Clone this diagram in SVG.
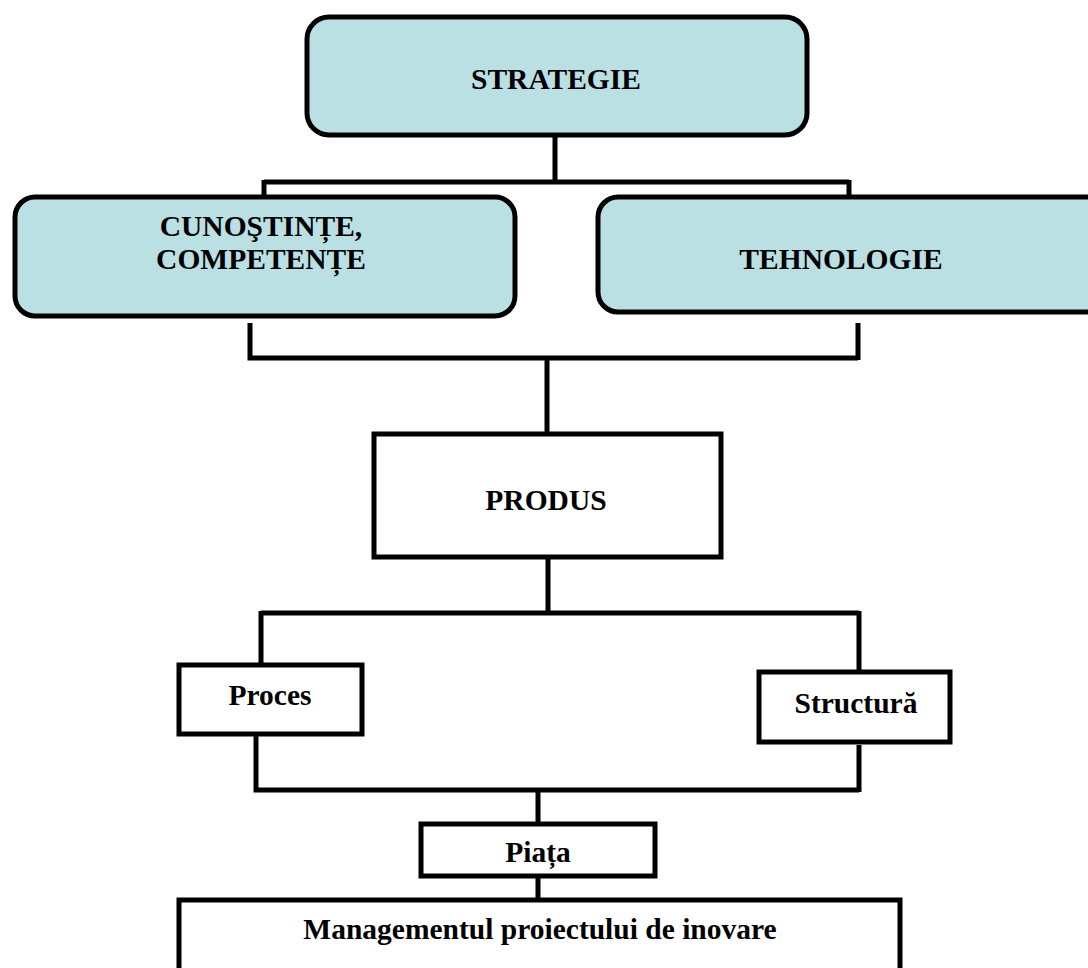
<svg xmlns="http://www.w3.org/2000/svg" width="1088" height="968" viewBox="0 0 1088 968">
  <style>
    .rounded { fill: #bae0e4; stroke: #000; stroke-width: 5; }
    .plain { fill: #fff; stroke: #000; stroke-width: 5; }
    .label { font-family: "Liberation Serif", "Times New Roman", serif; font-weight: bold; font-size: 29.5px; fill: #000; text-anchor: middle; }
    .wire { fill: none; stroke: #000; stroke-width: 5; stroke-linecap: butt; stroke-linejoin: miter; }
  </style>
  <rect width="1088" height="968" fill="#fff"/>

  <!-- connectors -->
  <g id="connectors">
    <path class="wire" d="M555 137 V182 M264 182 H849 M264 180 V197 M849 180 V197"/>
    <path class="wire" d="M250 323 V358 H858 M858 323 V360 M547 358 V432"/>
    <path class="wire" d="M548 559 V613 M261 613 H859 M261 611 V663 M859 611 V670"/>
    <path class="wire" d="M256 735 V790 H859 M859 745 V792 M538 790 V822"/>
    <path class="wire" d="M538 878 V900"/>
  </g>

  <g id="strategie">
    <rect class="rounded" x="307" y="17" width="500" height="118" rx="22" ry="22"/>
    <text class="label" x="556" y="89">STRATEGIE</text>
  </g>

  <g id="cunostinte">
    <rect class="rounded" x="15" y="197" width="500" height="119" rx="20" ry="20"/>
    <text class="label" x="261" y="236">CUNOŞTINȚE,</text>
    <text class="label" x="261" y="269">COMPETENȚE</text>
  </g>

  <g id="tehnologie">
    <rect class="rounded" x="598" y="197" width="510" height="115" rx="20" ry="20"/>
    <text class="label" x="841" y="269">TEHNOLOGIE</text>
  </g>

  <g id="produs">
    <rect class="plain" x="374" y="434" width="347" height="123"/>
    <text class="label" x="546" y="510">PRODUS</text>
  </g>

  <g id="proces">
    <rect class="plain" x="179" y="665" width="183" height="69"/>
    <text class="label" x="270" y="705">Proces</text>
  </g>

  <g id="structura">
    <rect class="plain" x="759" y="672" width="191" height="70"/>
    <text class="label" x="856" y="713">Structură</text>
  </g>

  <g id="piata">
    <rect class="plain" x="421" y="824" width="234" height="52"/>
    <text class="label" x="538" y="862">Piața</text>
  </g>

  <g id="management">
    <rect class="plain" x="179" y="900" width="721" height="90"/>
    <text class="label" x="540" y="939">Managementul proiectului de inovare</text>
  </g>
</svg>
